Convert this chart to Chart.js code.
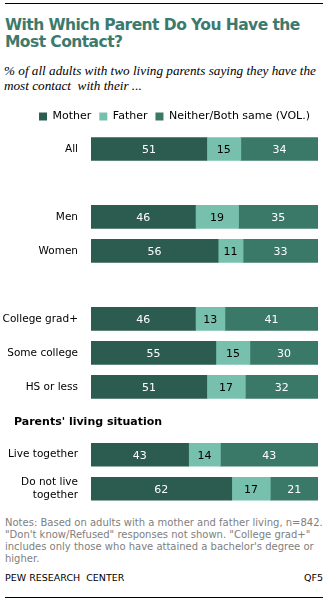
<!DOCTYPE html>
<html>
<head>
<meta charset="utf-8">
<script src="https://cdn.jsdelivr.net/npm/chart.js@4"></script>
<style>
  body { margin:0; width:328px; height:602px; background:#fff; position:relative; overflow:hidden; font-family:"DejaVu Sans", sans-serif; }
  .rule { position:absolute; left:5px; width:318px; height:0; border-top:1px solid #000; }
  #title { position:absolute; left:5px; top:17px; width:322px; font-weight:bold; font-size:15.5px; letter-spacing:-0.55px; line-height:17px; color:#3c7a6e; }
  #sub { position:absolute; left:4px; top:63px; width:324px; font-family:"Liberation Serif", serif; font-style:italic; font-size:13.2px; line-height:15px; color:#000; }
  #wrap { position:absolute; left:0; top:103px; width:328px; height:414px; }
  #notes { position:absolute; left:5px; top:517px; width:320px; font-size:10px; line-height:12px; color:#808080; }
  #src { position:absolute; left:5px; top:572px; font-size:9.5px; color:#000; }
  #qf { position:absolute; right:5px; top:572px; font-size:9.5px; color:#000; }
</style>
</head>
<body>
<div class="rule" style="top:3px"></div>
<div id="title">With Which Parent Do You Have the Most Contact?</div>
<div id="sub">% of all adults with two living parents saying they have the most contact&nbsp; with their ...</div>
<div id="wrap"><canvas id="c"></canvas></div>
<div id="notes">Notes: Based on adults with a mother and father living, n=842. "Don't know/Refused" responses not shown. "College grad+" includes only those who have attained a bachelor's degree or higher.</div>
<div id="src">PEW RESEARCH&nbsp; CENTER</div>
<div id="qf">QF5</div>
<div class="rule" style="top:597px"></div>
<script>
const categories = ["All", "", "Men", "Women", "", "College grad+", "Some college", "HS or less", "", "Live together", ["Do not live", "together"]];
const mother  = [51, null, 46, 56, null, 46, 55, 51, null, 43, 62];
const father  = [15, null, 19, 11, null, 13, 15, 17, null, 14, 17];
const neither = [34, null, 35, 33, null, 41, 30, 32, null, 43, 21];
const seriesNames = ["Mother", "Father", "Neither/Both same (VOL.)"];
const colors = ["#2b5c4f", "#78c0ae", "#3a7868"];
const labelColors = ["#fff", "#000", "#fff"];
const headingIndex = 8;
const headingText = "Parents' living situation";

const valueLabels = {
  id: "valueLabels",
  afterDatasetsDraw(chart) {
    const ctx = chart.ctx;
    ctx.save();
    ctx.font = "11px 'DejaVu Sans'";
    ctx.textAlign = "center";
    ctx.textBaseline = "middle";
    chart.data.datasets.forEach((ds, di) => {
      const meta = chart.getDatasetMeta(di);
      meta.data.forEach((bar, i) => {
        const v = ds.data[i];
        if (v == null) return;
        ctx.fillStyle = labelColors[di];
        ctx.fillText(String(v), (bar.x + bar.base) / 2, bar.y + 1);
      });
    });
    // section heading sits in its own empty category slot
    const y = chart.scales.y.getPixelForValue(headingIndex);
    ctx.font = "bold 11px 'DejaVu Sans'";
    ctx.textAlign = "left";
    ctx.fillStyle = "#000";
    ctx.fillText(headingText, 14, y + 1);
    ctx.restore();
  }
};

new Chart(document.getElementById("c"), {
  type: "bar",
  data: {
    labels: categories,
    datasets: [mother, father, neither].map((d, i) => ({
      label: seriesNames[i],
      data: d,
      backgroundColor: colors[i],
      borderWidth: 0,
      barThickness: 23
    }))
  },
  options: {
    indexAxis: "y",
    responsive: true,
    maintainAspectRatio: false,
    animation: false,
    layout: { padding: { right: 10, left: 0, top: 0, bottom: 0 } },
    scales: {
      x: { stacked: true, min: 0, max: 100, display: false },
      y: {
        stacked: true,
        grid: { display: false },
        border: { display: false },
        ticks: { color: "#000", font: { family: "DejaVu Sans", size: 10.5 }, padding: 5, autoSkip: false },
        afterFit(scale) { scale.width = 91; }
      }
    },
    plugins: {
      legend: {
        position: "top",
        align: "end",
        labels: {
          boxWidth: 8, boxHeight: 8, padding: 8,
          color: "#000",
          font: { family: "DejaVu Sans", size: 11 }
        }
      },
      tooltip: { enabled: false }
    }
  },
  plugins: [valueLabels]
});
</script>
</body>
</html>
